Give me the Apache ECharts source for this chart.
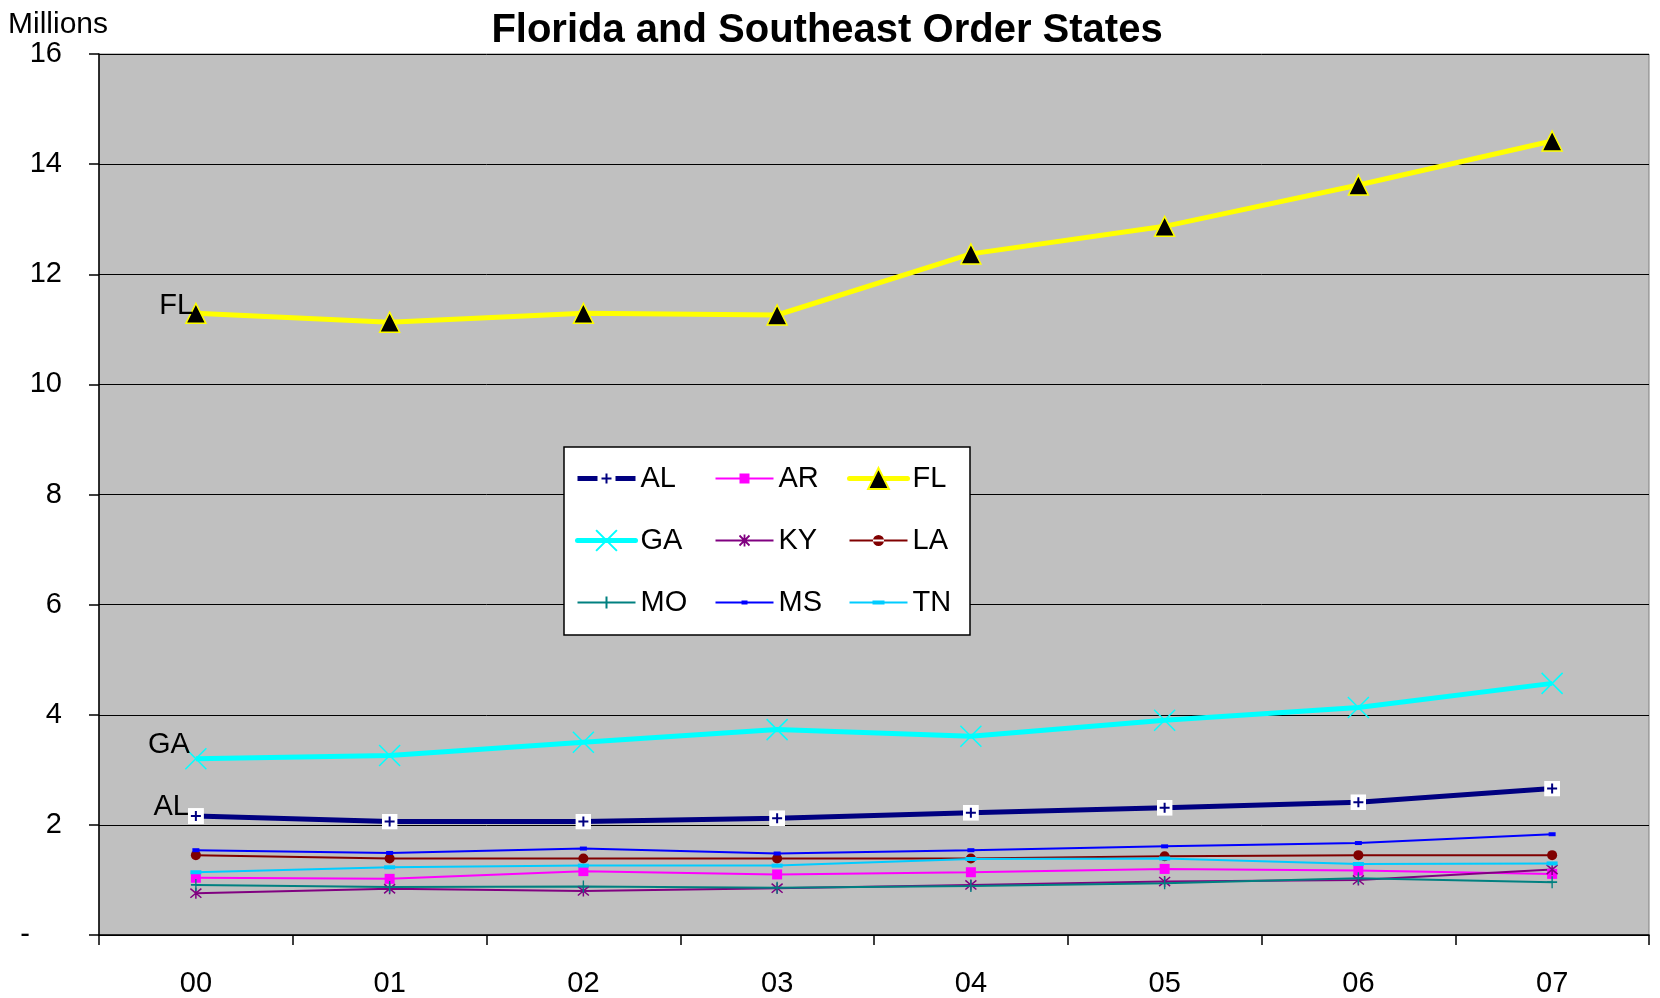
<!DOCTYPE html>
<html>
<head>
<meta charset="utf-8">
<script src="https://cdn.jsdelivr.net/npm/echarts@6/dist/echarts.min.js"></script>
<style>html,body{margin:0;padding:0;background:#fff}#c{width:1660px;height:998px}</style>
</head>
<body>
<div id="c"></div>
<script>
const categories = ['00','01','02','03','04','05','06','07'];
const yTicks = [0,2,4,6,8,10,12,14,16];
const AL = [2.16, 2.06, 2.06, 2.12, 2.22, 2.31, 2.41, 2.66];
const AR = [1.04, 1.02, 1.16, 1.10, 1.14, 1.20, 1.17, 1.11];
const FL = [11.29, 11.13, 11.29, 11.26, 12.37, 12.87, 13.62, 14.42];
const GA = [3.20, 3.26, 3.50, 3.73, 3.61, 3.90, 4.13, 4.57];
const KY = [0.76, 0.84, 0.80, 0.85, 0.91, 0.97, 1.00, 1.19];
const LA = [1.45, 1.39, 1.39, 1.39, 1.39, 1.43, 1.45, 1.45];
const MO = [0.91, 0.87, 0.88, 0.86, 0.89, 0.94, 1.03, 0.96];
const MS = [1.54, 1.49, 1.57, 1.48, 1.54, 1.61, 1.67, 1.83];
const TN = [1.14, 1.23, 1.26, 1.26, 1.38, 1.39, 1.29, 1.30];

const FONT = "'Liberation Sans', Arial, sans-serif";
const alSvg = '<svg xmlns="http://www.w3.org/2000/svg" width="16" height="16"><rect width="16" height="16" fill="#ffffff"/><path d="M8 3V13M3 8H13" stroke="#000080" stroke-width="2"/></svg>';
const alSymbol = 'image://data:image/svg+xml;charset=utf-8,' + encodeURIComponent(alSvg);
const xPath = 'path://M0,0L10,10M10,0L0,10';
const starPath = 'path://M0,0L10,10M10,0L0,10M5,-1L5,11';
const plusPath = 'path://M5,0L5,12M0,6L10,6';

function firstLabel(arr, name, dx, dy) {
  return arr.map((v, i) => i === 0 ? {
    value: v,
    label: { show: true, position: 'left', distance: 0, offset: [dx, dy], formatter: name,
      fontFamily: FONT, fontSize: 29, color: '#000' }
  } : v);
}

const series = [
  { name: 'AL', data: firstLabel(AL, 'AL', 1, -9), color: '#000080', lw: 5, symbol: alSymbol, size: 16 },
  { name: 'AR', data: AR, color: '#ff00ff', lw: 2, symbol: 'rect', size: 10 },
  { name: 'FL', data: firstLabel(FL, 'FL', 8, -7), color: '#ffff00', lw: 5, symbol: 'triangle', size: 20,
    item: { color: '#000', borderColor: '#ffff00', borderWidth: 1.5 } },
  { name: 'GA', data: firstLabel(GA, 'GA', 7, -14), color: '#00ffff', lw: 5, symbol: xPath, size: 21,
    item: { color: 'none', borderColor: '#00ffff', borderWidth: 1.5 } },
  { name: 'KY', data: KY, color: '#800080', lw: 2, symbol: starPath, size: 11,
    item: { color: 'none', borderColor: '#800080', borderWidth: 1.5 } },
  { name: 'LA', data: LA, color: '#800000', lw: 2, symbol: 'circle', size: 10 },
  { name: 'MO', data: MO, color: '#008080', lw: 2, symbol: plusPath, size: [10, 12],
    item: { color: 'none', borderColor: '#008080', borderWidth: 1.5 } },
  { name: 'MS', data: MS, color: '#0000ff', lw: 2, symbol: 'rect', size: [7, 4] },
  { name: 'TN', data: TN, color: '#00ccff', lw: 2, symbol: 'rect', size: [11, 4] }
].map(s => ({
  name: s.name, type: 'line', data: s.data, symbol: s.symbol, symbolSize: s.size,
  showAllSymbol: true, animation: false,
  lineStyle: { color: s.color, width: s.lw },
  itemStyle: Object.assign({ color: s.color }, s.item || {}),
  emphasis: { disabled: true }
}));

// legend icons (line + marker, 58 px wide)
const LINE = 'M0,7H58V9H0Z';
const legendItems = {
  AL: { name: 'AL', icon: 'path://M0,5.5H20V10.5H0Z M38,5.5H58V10.5H38Z M28,3H30V13H28Z M24,7H34V9H24Z',
        itemStyle: { color: '#000080', borderWidth: 0 } },
  AR: { name: 'AR', icon: 'path://' + LINE + ' M24,3H34V13H24Z', itemStyle: { color: '#ff00ff', borderWidth: 0 } },
  FL: { name: 'FL', lineStyle: { width: 5, color: '#ffff00', cap: 'round' } },
  GA: { name: 'GA', lineStyle: { width: 5, color: '#00ffff', cap: 'round' } },
  KY: { name: 'KY', icon: 'path://M0,8H58M24,3L34,13M34,3L24,13M29,2V14',
        itemStyle: { color: 'none', borderColor: '#800080', borderWidth: 1.8 } },
  LA: { name: 'LA', icon: 'path://' + LINE + ' M23.5,8A5.5,5.5,0,1,0,34.5,8A5.5,5.5,0,1,0,23.5,8Z', itemStyle: { color: '#800000', borderWidth: 0 } },
  MO: { name: 'MO', icon: 'path://M0,8H58M29,2V14',
        itemStyle: { color: 'none', borderColor: '#008080', borderWidth: 2 } },
  MS: { name: 'MS', icon: 'path://' + LINE + ' M26,6H32V10H26Z', itemStyle: { color: '#0000ff', borderWidth: 0 } },
  TN: { name: 'TN', icon: 'path://' + LINE + ' M23,6H35V10H23Z', itemStyle: { color: '#00ccff', borderWidth: 0 } }
};

function legendCol(names, left) {
  return {
    data: names.map(n => legendItems[n]), orient: 'vertical', left: left, top: 459, padding: 5,
    itemWidth: 58, itemHeight: 26, itemGap: 33, itemTextGap: 9, selectedMode: false, z: 10,
    symbolKeepAspect: true,
    textStyle: { fontFamily: FONT, fontSize: 29, color: '#000' }
  };
}

const option = {
  animation: false,
  backgroundColor: '#ffffff',
  title: [
    { text: 'Florida and Southeast Order States', left: 822, textAlign: 'center', top: 6,
      textStyle: { fontFamily: FONT, fontSize: 40, fontWeight: 'bold', color: '#000' } },
    { text: 'Millions', left: 3, top: 5,
      textStyle: { fontFamily: FONT, fontSize: 30, fontWeight: 'normal', color: '#000' } }
  ],
  grid: { left: 99, right: 11, top: 54, bottom: 62, show: true, backgroundColor: '#c0c0c0',
    borderColor: '#808080', borderWidth: 1 },
  legend: [legendCol(['AL','GA','MO'], 570), legendCol(['AR','KY','MS'], 708), legendCol(['FL','LA','TN'], 842)],
  graphic: [{ type: 'rect', shape: { x: 564, y: 447, width: 406, height: 188 }, z: 5,
    style: { fill: '#ffffff', stroke: '#000', lineWidth: 1.5 } }],
  xAxis: {
    type: 'category', data: categories, boundaryGap: true,
    axisLine: { lineStyle: { color: '#000', width: 1.5 } },
    axisTick: { show: true, length: 10, lineStyle: { color: '#000', width: 1.5 } },
    axisLabel: { fontFamily: FONT, fontSize: 29, color: '#000', margin: 34 },
    splitLine: { show: false }
  },
  yAxis: {
    type: 'value', min: yTicks[0], max: yTicks[yTicks.length - 1], interval: 2,
    axisLine: { show: true, lineStyle: { color: '#000', width: 1.5 } },
    axisTick: { show: true, length: 10, lineStyle: { color: '#000', width: 1.5 } },
    axisLabel: { fontFamily: FONT, fontSize: 29, color: '#000', margin: 37,
      formatter: v => v === 0 ? '{d|-}' : String(v),
      rich: { d: { fontFamily: FONT, fontSize: 29, color: '#000', padding: [0, 32, 0, 0] } } },
    splitLine: { show: true, lineStyle: { color: '#000', width: 1 } }
  },
  series: series
};

const chart = echarts.init(document.getElementById('c'), null, { renderer: 'canvas' });
chart.setOption(option);
</script>
</body>
</html>
